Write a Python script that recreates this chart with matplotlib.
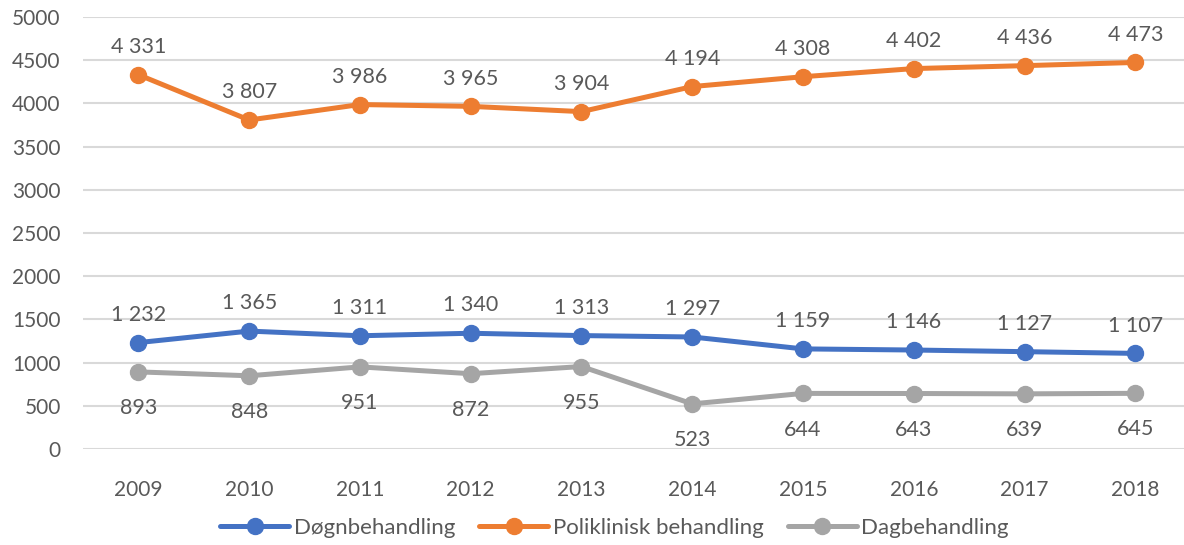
import matplotlib
matplotlib.use('Agg')
import matplotlib.pyplot as plt

years = ['2009', '2010', '2011', '2012', '2013', '2014', '2015', '2016', '2017', '2018']
dogn = [1232, 1365, 1311, 1340, 1313, 1297, 1159, 1146, 1127, 1107]
poli = [4331, 3807, 3986, 3965, 3904, 4194, 4308, 4402, 4436, 4473]
dag = [893, 848, 951, 872, 955, 523, 644, 643, 639, 645]

plt.rcParams['font.family'] = ['Lato', 'DejaVu Sans']
text_color = '#595959'

fig = plt.figure(figsize=(11.84, 5.45), dpi=100)
ax = fig.add_axes([0.0701, 0.176, 0.93, 0.793])

x = list(range(len(years)))
series = [
    ('Døgnbehandling', dogn, '#4472C4', 20),
    ('Poliklinisk behandling', poli, '#ED7D31', 20),
    ('Dagbehandling', dag, '#A5A5A5', -26),
]

for name, vals, color, off in series:
    ax.plot(x, vals, color=color, lw=3.6, marker='o', ms=11.5, label=name,
            solid_capstyle='round', zorder=3)
    for xi, v in zip(x, vals):
        lbl = f'{v:,}'.replace(',', ' ')
        ax.annotate(lbl, (xi, v), xytext=(0, off), textcoords='offset points',
                    ha='center', va='center', fontsize=15.5, color=text_color)

ax.set_xlim(-0.5, 9.44)
ax.set_ylim(0, 5000)
ax.set_yticks(range(0, 5001, 500))
ax.set_xticks(x)
ax.set_xticklabels(years)
ax.tick_params(axis='both', length=0, labelsize=15, colors=text_color)
ax.tick_params(axis='x', pad=22)
ax.tick_params(axis='y', pad=16)
ax.grid(axis='y', color='#D9D9D9', lw=1.5)
ax.set_axisbelow(True)
for s in ax.spines.values():
    s.set_visible(False)

leg = fig.legend(loc='center', bbox_to_anchor=(0.519, 0.032), ncol=3, frameon=False,
                 fontsize=16, handlelength=3.1, columnspacing=1.1, handletextpad=0.2,
                 labelcolor=text_color)

fig.savefig('out.png', dpi=100)
